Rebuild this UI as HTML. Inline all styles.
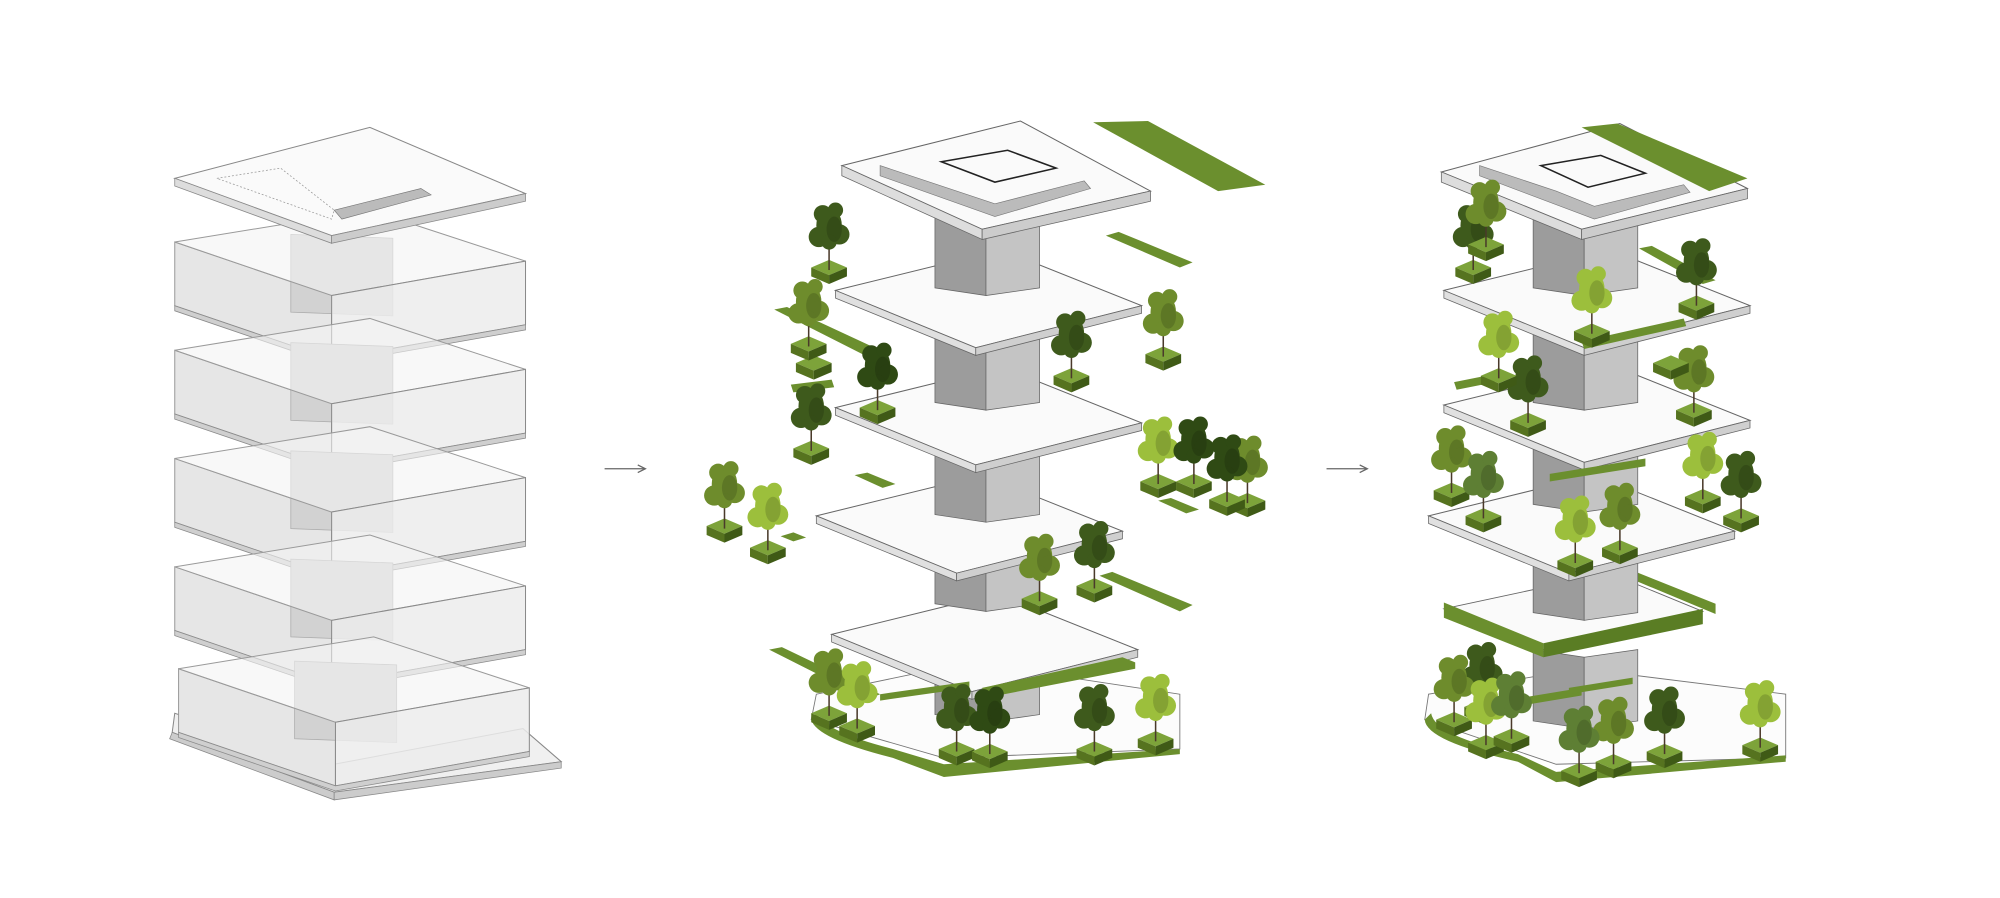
<!DOCTYPE html>
<html><head><meta charset="utf-8"><style>
html,body{margin:0;padding:0;background:#fff;width:2000px;height:898px;overflow:hidden}
svg{display:block}
</style></head><body>
<svg width="2000" height="898" viewBox="0 0 1568 705" preserveAspectRatio="none" xmlns="http://www.w3.org/2000/svg">
<defs>
 <g id="box">
  <polygon points="0,0 123,42 123,92 0,50" fill="#e6e6e6" stroke="#9a9a9a" stroke-width="0.8"/>
  <polygon points="91,-6 171,-3 171,58 91,55" fill="#d2d2d2" stroke="#aaa" stroke-width="0.6"/>
  <polygon points="0,0 153,-25 275,15 123,42" fill="#f3f3f3" fill-opacity="0.6" stroke="#9a9a9a" stroke-width="0.8"/>
  <polygon points="123,42 275,15 275,65 123,92" fill="#ececec" fill-opacity="0.85" stroke="#8a8a8a" stroke-width="0.8"/>
  <polygon points="0,50 123,92 275,65 275,69 123,96 0,54" fill="#cfcfcf" stroke="#8a8a8a" stroke-width="0.6"/>
 </g>
 <g id="slab">
  <polygon points="0,0 130,-32 240,12 110,45" fill="#fafafa" stroke="#666" stroke-width="0.8"/>
  <polygon points="0,0 110,45 110,51 0,6" fill="#e0e0e0" stroke="#666" stroke-width="0.6"/>
  <polygon points="110,45 240,12 240,18 110,51" fill="#cfcfcf" stroke="#666" stroke-width="0.6"/>
 </g>
 <g id="core">
  <polygon points="0,0 40,6 40,62 0,56" fill="#9c9c9c" stroke="#666" stroke-width="0.6"/>
  <polygon points="40,6 82,0 82,56 40,62" fill="#c4c4c4" stroke="#666" stroke-width="0.6"/>
 </g>
 <g id="tree">
  <polygon points="-14,0 0,-6 14,0 0,6" fill="#7da33a"/>
  <polygon points="-14,0 0,6 0,13 -14,7" fill="#56731f"/>
  <polygon points="0,6 14,0 14,7 0,13" fill="#3f5a16"/>
  <line x1="0" y1="2" x2="0" y2="-22" stroke="#4a3a2a" stroke-width="1.2"/>
  <ellipse cx="0" cy="-33" rx="10" ry="14"/>
  <circle cx="-8" cy="-24" r="8"/>
  <circle cx="8" cy="-26" r="8"/>
  <circle cx="-5" cy="-42" r="7"/>
  <circle cx="5" cy="-45" r="6"/>
  <circle cx="0" cy="-20" r="6"/>
  <ellipse cx="4" cy="-30" rx="6" ry="10" fill="#000" fill-opacity="0.15"/>
 </g>
 <g id="pl">
  <polygon points="-14,0 0,-6 14,0 0,6" fill="#7da33a"/>
  <polygon points="-14,0 0,6 0,13 -14,7" fill="#56731f"/>
  <polygon points="0,6 14,0 14,7 0,13" fill="#3f5a16"/>
 </g>
</defs>

<!-- LEFT TOWER -->
<g transform="translate(137,190)"><use href="#box"/></g>
<g transform="translate(137,275)"><use href="#box"/></g>
<g transform="translate(137,360)"><use href="#box"/></g>
<g transform="translate(137,445)"><use href="#box"/></g>
<polygon points="135,575 262,622 440,598 410,572 262,600 137,560" fill="#f0f0f0" stroke="#888" stroke-width="0.8"/>
<polygon points="135,575 262,622 262,628 133,580" fill="#ccc" stroke="#888" stroke-width="0.6"/>
<polygon points="262,622 440,598 440,603 262,628" fill="#ccc" stroke="#888" stroke-width="0.6"/>
<g transform="translate(140,525)"><use href="#box"/></g>
<polygon points="137,140 290,100 412,152 260,185" fill="#fafafa" stroke="#888" stroke-width="0.8"/>
<polygon points="137,140 260,185 260,191 137,146" fill="#ddd" stroke="#888" stroke-width="0.6"/>
<polygon points="260,185 412,152 412,158 260,191" fill="#ccc" stroke="#888" stroke-width="0.6"/>
<polygon points="170,140 220,132 262,165 260,172" fill="none" stroke="#999" stroke-width="0.6" stroke-dasharray="1.5 1.5"/>
<polygon points="262,165 330,148 338,153 268,172" fill="#bbb" stroke="#777" stroke-width="0.5"/>

<!-- ARROWS -->
<line x1="474" y1="368" x2="505" y2="368" stroke="#666" stroke-width="1"/>
<polyline points="500,365 506,368 500,371" fill="none" stroke="#666" stroke-width="1"/>
<line x1="1040" y1="368" x2="1071" y2="368" stroke="#666" stroke-width="1"/>
<polyline points="1066,365 1072,368 1066,371" fill="none" stroke="#666" stroke-width="1"/>

<!-- MIDDLE TOWER -->
<polygon points="636,565 740,595 925,588 925,545 760,520 640,545" fill="#fcfcfc" stroke="#777" stroke-width="0.7"/>
<path d="M636,565 Q640,580 700,595 L740,610 L925,592 L925,588 L740,600 L700,588 Q648,575 640,560 Z" fill="#6b8f2e"/>
<g transform="translate(733,505)"><use href="#core"/></g>
<g transform="translate(652,498)"><use href="#slab"/></g>
<g transform="translate(733,418)"><use href="#core"/></g>
<g transform="translate(640,405)"><use href="#slab"/></g>
<g transform="translate(733,348)"><use href="#core"/></g>
<g transform="translate(655,320)"><use href="#slab"/></g>
<g transform="translate(733,260)"><use href="#core"/></g>
<g transform="translate(655,228)"><use href="#slab"/></g>
<g transform="translate(733,170)"><use href="#core"/></g>
<polygon points="660,130 800,95 902,150 770,180" fill="#fafafa" stroke="#666" stroke-width="0.8"/>
<polygon points="660,130 770,180 770,188 660,138" fill="#ddd" stroke="#666" stroke-width="0.6"/>
<polygon points="770,180 902,150 902,158 770,188" fill="#ccc" stroke="#666" stroke-width="0.6"/>
<polygon points="738,127 790,118 828,132 780,143" fill="none" stroke="#222" stroke-width="1.2"/>
<polygon points="690,130 750,150 780,160 850,142 855,148 780,170 690,138" fill="#bbb" stroke="#777" stroke-width="0.5"/>
<!-- green strips middle -->
<polygon points="857,96 900,95 992,145 955,150" fill="#6b8f2e"/>
<polygon points="867,185 877,182 935,206 925,210" fill="#6b8f2e"/>
<polygon points="607,243 617,241 690,275 680,280" fill="#6b8f2e"/>
<polygon points="620,302 652,298 654,304 622,308" fill="#6b8f2e"/>
<polygon points="670,373 680,371 702,380 692,383" fill="#6b8f2e"/>
<polygon points="908,393 918,391 940,400 930,403" fill="#6b8f2e"/>
<polygon points="862,452 872,449 935,475 925,480" fill="#6b8f2e"/>
<polygon points="603,510 613,508 690,545 680,549" fill="#6b8f2e"/>
<polygon points="690,545 760,535 760,540 690,550" fill="#6b8f2e"/>
<polygon points="770,540 880,516 890,520 890,525 772,548" fill="#6b8f2e"/>
<polygon points="612,421 622,418 632,422 622,425" fill="#6b8f2e"/>
<g fill="#3e5a1c">
 <use href="#tree" transform="translate(650,210)"/>
 <use href="#pl" transform="translate(638,285)"/>
 <use href="#tree" transform="translate(636,352)"/>
 <use href="#tree" transform="translate(840,295)"/>
 <use href="#tree" transform="translate(858,460)"/>
 <use href="#tree" transform="translate(750,588)"/>
 <use href="#tree" transform="translate(858,588)"/>
</g>
<g fill="#6e8c2c">
 <use href="#tree" transform="translate(634,270)"/>
 <use href="#tree" transform="translate(568,413)"/>
 <use href="#tree" transform="translate(912,278)"/>
 <use href="#tree" transform="translate(978,393)"/>
 <use href="#tree" transform="translate(815,470)"/>
 <use href="#tree" transform="translate(650,560)"/>
</g>
<g fill="#9cbf3c">
 <use href="#tree" transform="translate(602,430)"/>
 <use href="#tree" transform="translate(908,378)"/>
 <use href="#tree" transform="translate(906,580)"/>
 <use href="#tree" transform="translate(672,570)"/>
</g>
<g fill="#2f4a14">
 <use href="#tree" transform="translate(936,378)"/>
 <use href="#tree" transform="translate(776,590)"/>
 <use href="#tree" transform="translate(688,320)"/>
 <use href="#tree" transform="translate(962,392)"/>
</g>

<!-- RIGHT TOWER -->
<polygon points="1117,565 1220,600 1400,595 1400,545 1240,525 1120,545" fill="#fcfcfc" stroke="#777" stroke-width="0.7"/>
<path d="M1117,565 Q1118,582 1190,598 L1220,614 L1400,598 L1400,593 L1220,606 L1190,592 Q1125,578 1122,560 Z" fill="#6b8f2e"/>
<g transform="translate(1202,510)"><use href="#core"/></g>
<polygon points="1132,478 1262,450 1335,480 1210,510" fill="#fafafa" stroke="#666" stroke-width="0.7"/>
<polygon points="1132,473 1210,505 1210,516 1132,485" fill="#6b8f2e"/>
<polygon points="1210,505 1335,478 1335,490 1210,516" fill="#5a7d24"/>
<polygon points="1280,448 1345,474 1345,482 1280,455" fill="#6b8f2e"/>
<g transform="translate(1202,425)"><use href="#core"/></g>
<g transform="translate(1120,405)"><use href="#slab"/></g>
<g transform="translate(1202,340)"><use href="#core"/></g>
<g transform="translate(1132,318)"><use href="#slab"/></g>
<g transform="translate(1202,260)"><use href="#core"/></g>
<g transform="translate(1132,228)"><use href="#slab"/></g>
<g transform="translate(1202,170)"><use href="#core"/></g>
<polygon points="1130,135 1270,97 1370,148 1240,180" fill="#fafafa" stroke="#666" stroke-width="0.8"/>
<polygon points="1240,100 1268,97 1370,140 1340,150" fill="#6b8f2e"/>
<polygon points="1130,135 1240,180 1240,188 1130,143" fill="#ddd" stroke="#666" stroke-width="0.6"/>
<polygon points="1240,180 1370,148 1370,156 1240,188" fill="#ccc" stroke="#666" stroke-width="0.6"/>
<polygon points="1208,130 1255,122 1290,136 1245,147" fill="none" stroke="#222" stroke-width="1.2"/>
<polygon points="1160,130 1220,150 1250,162 1320,145 1325,151 1250,172 1160,138" fill="#bbb" stroke="#777" stroke-width="0.5"/>
<polygon points="1285,195 1295,193 1345,220 1335,223" fill="#6b8f2e"/>
<polygon points="1240,268 1320,250 1322,256 1242,274" fill="#6b8f2e"/>
<polygon points="1140,300 1170,294 1172,300 1142,306" fill="#6b8f2e"/>
<polygon points="1300,285 1310,283 1330,292 1320,295" fill="#6b8f2e"/>
<polygon points="1215,372 1290,360 1290,366 1215,378" fill="#6b8f2e"/>
<polygon points="1180,550 1240,540 1240,546 1180,556" fill="#6b8f2e"/>
<polygon points="1230,540 1280,532 1280,537 1230,545" fill="#6b8f2e"/>
<g fill="#3e5a1c">
 <use href="#tree" transform="translate(1155,210)"/>
 <use href="#tree" transform="translate(1330,238)"/>
 <use href="#tree" transform="translate(1198,330)"/>
 <use href="#tree" transform="translate(1365,405)"/>
 <use href="#tree" transform="translate(1305,590)"/>
 <use href="#tree" transform="translate(1162,555)"/>
</g>
<g fill="#6e8c2c">
 <use href="#tree" transform="translate(1165,192)"/>
 <use href="#tree" transform="translate(1138,385)"/>
 <use href="#tree" transform="translate(1328,322)"/>
 <use href="#tree" transform="translate(1265,598)"/>
 <use href="#tree" transform="translate(1140,565)"/>
 <use href="#tree" transform="translate(1270,430)"/>
</g>
<g fill="#9cbf3c">
 <use href="#tree" transform="translate(1248,260)"/>
 <use href="#tree" transform="translate(1175,295)"/>
 <use href="#tree" transform="translate(1335,390)"/>
 <use href="#tree" transform="translate(1380,585)"/>
 <use href="#tree" transform="translate(1165,583)"/>
 <use href="#tree" transform="translate(1235,440)"/>
</g>
<g fill="#5e7f34">
 <use href="#tree" transform="translate(1163,405)"/>
 <use href="#tree" transform="translate(1238,605)"/>
 <use href="#tree" transform="translate(1185,578)"/>
 <use href="#pl" transform="translate(1310,285)"/>
</g>
</svg>
</body></html>
